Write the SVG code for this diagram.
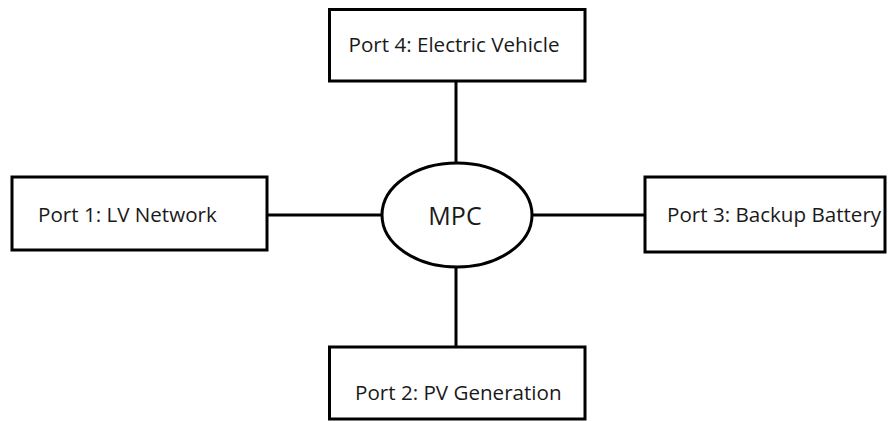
<svg xmlns="http://www.w3.org/2000/svg" width="888" height="421" viewBox="0 0 888 421">
<style>
.box{fill:#fff;stroke:#000;stroke-width:3}
.lbl{font-family:"Open Sans","Liberation Sans",sans-serif;font-size:20.6px;fill:#1a1a1a}
.edge{stroke:#000;stroke-width:3;fill:none}
</style>
<rect width="888" height="421" fill="#fff"/>
<g id="connectors">
<line class="edge" x1="456" y1="81" x2="456" y2="165"/>
<line class="edge" x1="456" y1="265" x2="456" y2="347"/>
<line class="edge" x1="267" y1="215" x2="383" y2="215"/>
<line class="edge" x1="531" y1="215" x2="645" y2="215"/>
</g>
<g id="mpc">
<ellipse class="box" cx="457" cy="215" rx="75" ry="52"/>
<text class="lbl" x="455" y="225" text-anchor="middle" style="font-size:25px">MPC</text>
</g>
<g id="port4">
<rect class="box" x="329.5" y="9.5" width="255.5" height="71.5"/>
<text class="lbl" x="454" y="52" text-anchor="middle">Port 4: Electric Vehicle</text>
</g>
<g id="port1">
<rect class="box" x="12" y="177" width="255" height="73"/>
<text class="lbl" x="38" y="222">Port 1: LV Network</text>
</g>
<g id="port3">
<rect class="box" x="645" y="177" width="240" height="75"/>
<text class="lbl" x="667" y="222">Port 3: Backup Battery</text>
</g>
<g id="port2">
<rect class="box" x="329.5" y="347" width="255.5" height="72"/>
<text class="lbl" x="355" y="400">Port 2: PV Generation</text>
</g>
</svg>
